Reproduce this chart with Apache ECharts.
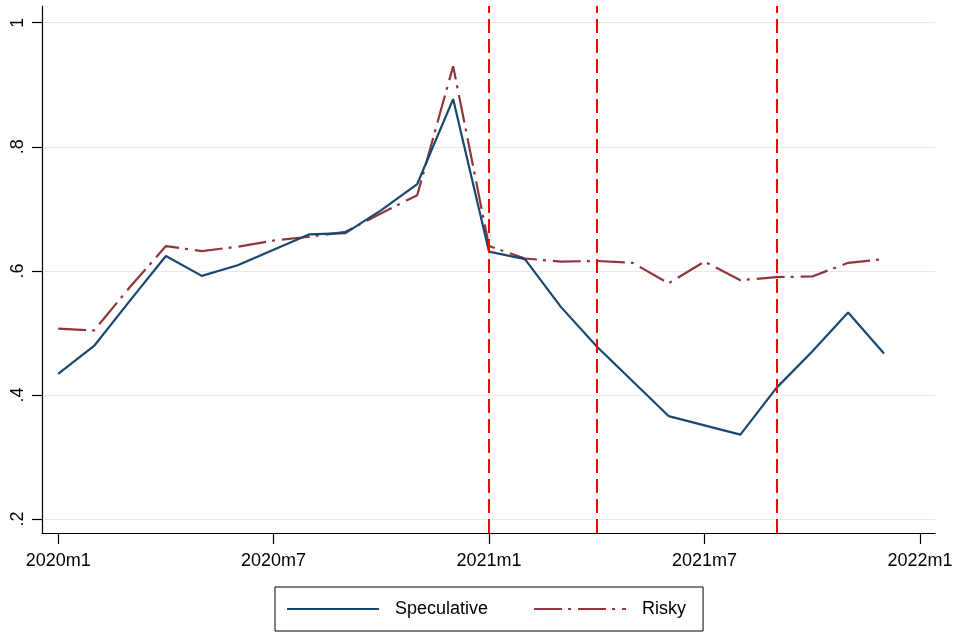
<!DOCTYPE html>
<html>
<head>
<meta charset="utf-8">
<script src="https://cdn.jsdelivr.net/npm/echarts@6/dist/echarts.min.js"></script>
<style>
  html, body { margin: 0; padding: 0; background: #fff; }
  #chart { width: 958px; height: 634px; }
</style>
</head>
<body>
<div id="chart"></div>
<script>
// Monthly observations, 2020m1 .. 2021m12
const months = ["2020m1","2020m2","2020m3","2020m4","2020m5","2020m6","2020m7","2020m8","2020m9","2020m10","2020m11","2020m12",
                "2021m1","2021m2","2021m3","2021m4","2021m5","2021m6","2021m7","2021m8","2021m9","2021m10","2021m11","2021m12"];
const speculative = [0.434, 0.479, 0.552, 0.624, 0.592, 0.609, 0.634, 0.659, 0.661, 0.698, 0.740, 0.877,
                     0.631, 0.619, 0.542, 0.478, 0.422, 0.366, 0.351, 0.336, 0.411, 0.470, 0.533, 0.467];
const risky       = [0.507, 0.504, 0.574, 0.640, 0.632, 0.639, 0.649, 0.655, 0.663, 0.693, 0.722, 0.930,
                     0.640, 0.620, 0.615, 0.616, 0.613, 0.580, 0.615, 0.585, 0.590, 0.591, 0.613, 0.619];
// Event months marked with vertical reference lines
const eventMonths = ["2021m1", "2021m4", "2021m9"];
// Axis ticks
const xTickLabels = ["2020m1", "2020m7", "2021m1", "2021m7", "2022m1"];
const yTickValues = [0.2, 0.4, 0.6, 0.8, 1];

// month label "YYYYmM" -> months since 2020m1
function monthIndex(label) {
  const [y, m] = label.split("m").map(Number);
  return (y - 2020) * 12 + (m - 1);
}
const xTickValues = xTickLabels.map(monthIndex);
const xLabelOf = {};
xTickLabels.forEach(l => { xLabelOf[monthIndex(l)] = l; });

const FONT = "Liberation Sans, Arial, sans-serif";

const chart = echarts.init(document.getElementById("chart"), null, { renderer: "canvas" });
chart.setOption({
  animation: false,
  backgroundColor: "#ffffff",
  grid: { left: 42, right: 23, top: 6, bottom: 101, containLabel: false },
  xAxis: {
    type: "value",
    min: -0.45,
    max: 24.42,
    axisLine: { show: true, onZero: false, lineStyle: { color: "#000", width: 1.2 } },
    axisTick: { show: true, length: 11, lineStyle: { color: "#000", width: 1.2 }, customValues: xTickValues },
    axisLabel: {
      customValues: xTickValues,
      formatter: v => xLabelOf[Math.round(v)] || "",
      color: "#000", fontFamily: FONT, fontSize: 18, margin: 19
    },
    splitLine: { show: false }
  },
  yAxis: {
    type: "value",
    min: 0.1775,
    max: 1.027,
    axisLine: { show: true, onZero: false, lineStyle: { color: "#000", width: 1.2 } },
    axisTick: { show: true, length: 10, lineStyle: { color: "#000", width: 1.2 }, customValues: yTickValues },
    axisLabel: {
      customValues: yTickValues,
      rotate: 90,
      formatter: v => (Math.abs(v - 1) < 1e-9 ? "1" : String(Number(v.toFixed(1))).replace(/^0/, "")),
      color: "#000", fontFamily: FONT, fontSize: 18, margin: 15
    },
    splitLine: { show: true, lineStyle: { color: "#e8e8e8", width: 1.2 } }
  },
  legend: {
    left: 275,
    top: 587,
    orient: "horizontal",
    padding: [13, 17, 13, 11],
    itemGap: 45,
    itemWidth: 92,
    itemHeight: 14,
    borderColor: "#000",
    borderWidth: 1,
    itemStyle: { opacity: 0, color: "transparent", borderWidth: 0 },
    textStyle: { color: "#000", fontFamily: FONT, fontSize: 18, padding: [0, 0, 0, 11] },
    data: [
      { name: "Speculative", textStyle: { width: 101 } },
      { name: "Risky", textStyle: { width: 47 } }
    ]
  },
  series: [
    {
      name: "Speculative",
      type: "line",
      symbol: "none",
      data: months.map((m, i) => [monthIndex(m), speculative[i]]),
      lineStyle: { color: "#1a476f", width: 2.2 },
      itemStyle: { color: "#1a476f" },
      z: 3,
      markLine: {
        silent: true,
        symbol: "none",
        label: { show: false },
        lineStyle: { color: "#ff0000", width: 2, type: [14, 6] },
        data: eventMonths.map(m => ({ xAxis: monthIndex(m) }))
      }
    },
    {
      name: "Risky",
      type: "line",
      symbol: "none",
      data: months.map((m, i) => [monthIndex(m), risky[i]]),
      lineStyle: { color: "#90353b", width: 2.2, type: [28, 6, 3, 7] },
      itemStyle: { color: "#90353b" },
      z: 2
    }
  ]
});
</script>
</body>
</html>
